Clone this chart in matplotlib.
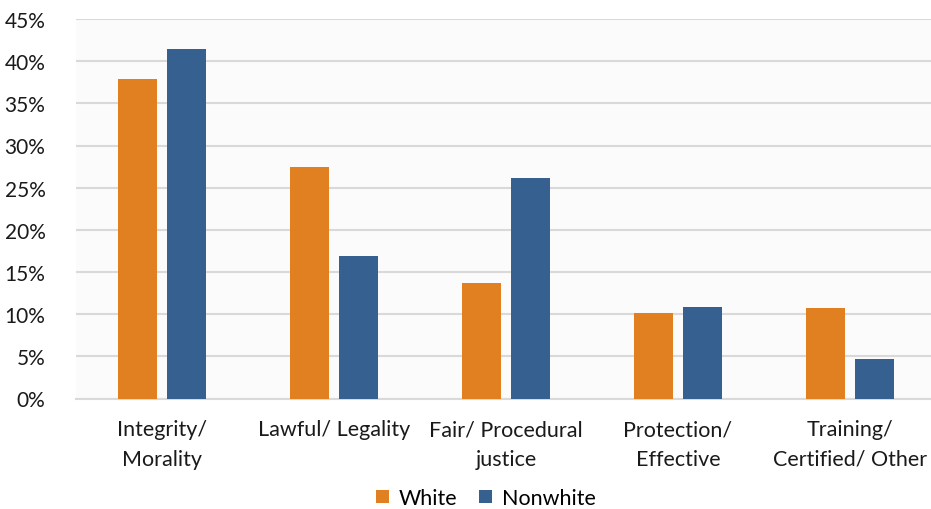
import numpy as np
import matplotlib.pyplot as plt
from matplotlib.ticker import FuncFormatter

categories = ['Integrity/\nMorality', 'Lawful/ Legality', 'Fair/ Procedural\njustice',
              'Protection/\nEffective', 'Training/\nCertified/ Other']
white = [37.9, 27.5, 13.7, 10.1, 10.7]
nonwhite = [41.5, 16.9, 26.2, 10.8, 4.7]

plt.rcParams['font.family'] = ['Lato', 'DejaVu Sans']

fig = plt.figure(figsize=(9.31, 5.10), dpi=100)
ax = fig.add_axes([76 / 931, 1 - 399.5 / 510, 860 / 931, 379.5 / 510])
ax.set_facecolor('#fbfbfb')

x = np.arange(len(categories))
w = 0.226
ax.bar(x - 0.142, white, w, color='#e08020', label='White', zorder=3)
ax.bar(x + 0.142, nonwhite, w, color='#36608f', label='Nonwhite', zorder=3)

ax.set_xlim(-0.5, len(categories) - 0.5)
ax.set_ylim(0, 45)
ax.set_yticks(np.arange(0, 46, 5))
ax.yaxis.set_major_formatter(FuncFormatter(lambda v, p: f'{v:.0f}%'))
ax.grid(axis='y', color='#d9d9d9', linewidth=1.5, zorder=0)
for s in ['top', 'right', 'left']:
    ax.spines[s].set_visible(False)
ax.spines['bottom'].set_color('#d9d9d9')
ax.spines['bottom'].set_linewidth(1.5)
ax.tick_params(axis='y', length=0, labelsize=15, colors='#1a1a1a', pad=22)
ax.tick_params(axis='x', length=0, labelsize=15.5, colors='#1a1a1a', pad=15)
ax.set_xticks(x)
ax.set_xticklabels(categories, linespacing=1.6)

fig.legend(loc='center', bbox_to_anchor=(486 / 931, 1 - 499 / 510), ncol=2, frameon=False,
           fontsize=15.5, handlelength=0.6, handleheight=0.6, columnspacing=1.0, handletextpad=0.45)

fig.savefig('out.png', dpi=100)
